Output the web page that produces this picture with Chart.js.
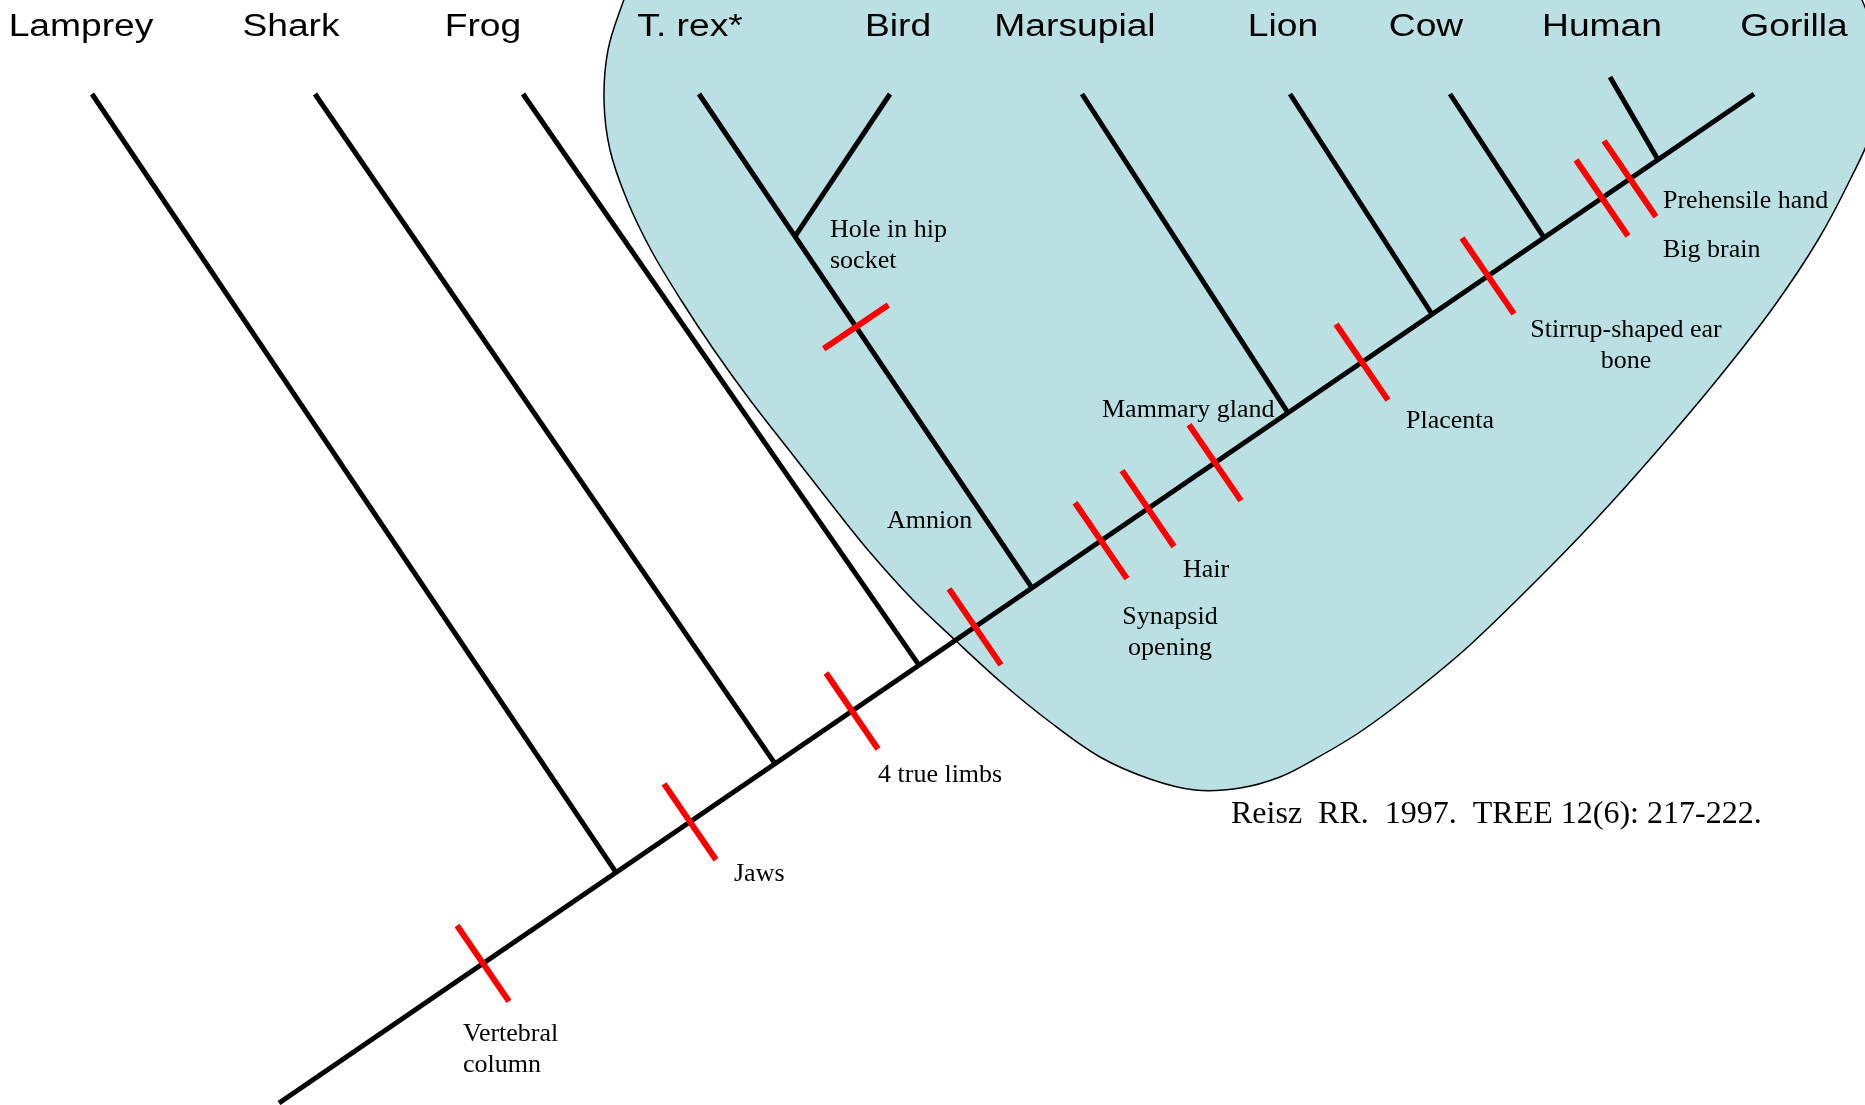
<!DOCTYPE html>
<html>
<head>
<meta charset="utf-8">
<title>Cladogram</title>
<script src="https://cdn.jsdelivr.net/npm/chart.js@4.4.1/dist/chart.umd.min.js"></script>
<style>
  html, body { margin: 0; padding: 0; background: #fff; }
  #wrap { width: 1865px; height: 1105px; position: relative; }
</style>
</head>
<body>
<div id="wrap"><canvas id="clado"></canvas></div>
<script>
// taxa along the top, left to right
const taxa = ['Lamprey', 'Shark', 'Frog', 'T. rex*', 'Bird', 'Marsupial', 'Lion', 'Cow', 'Human', 'Gorilla'];
const tipX = [92, 315, 523, 699, 890, 1082, 1290, 1450, 1610, 1754];
const tipY = [94, 94, 94, 94, 94, 94, 94, 94, 77, 94];
// x where each branch meets its parent; parent -1 = main stem
const joinX = [616, 775, 919, 1032, 795, 1288, 1432, 1544, 1658, 1754];
const parent = [-1, -1, -1, -1, 3, -1, -1, -1, -1, -1];

const rootX = 279, rootY = 1103;

// derived characters, x where they cross their lineage
const traits = ['Vertebral column', 'Jaws', '4 true limbs', 'Amnion', 'Synapsid opening', 'Hair',
  'Mammary gland', 'Placenta', 'Stirrup-shaped ear bone', 'Big brain', 'Prehensile hand', 'Hole in hip socket'];
const traitX = [483, 690, 852, 975, 1101, 1148, 1215, 1362, 1488, 1602, 1630, 856];
const traitOn = [-1, -1, -1, -1, -1, -1, -1, -1, -1, -1, -1, 3];

// outline of the shaded (amniote) group
const cladeX = [640, 622, 608, 604, 610, 627, 651, 681, 714, 750, 789, 828, 868, 913, 955, 1002, 1050, 1100, 1150, 1195,
  1240, 1280, 1315, 1360, 1410, 1470, 1550, 1610, 1670, 1725, 1775, 1818, 1850, 1872, 1882, 1862, 1830, 1300, 700];
const cladeY = [-40, 5, 50, 100, 150, 200, 250, 300, 350, 400, 450, 500, 550, 600, 640, 683, 722, 757, 779, 790,
  788, 777, 759, 732, 695, 645, 567, 504, 436, 370, 305, 240, 180, 130, 70, 0, -50, -90, -80];

const citation = 'Reisz  RR.  1997.  TREE 12(6): 217-222.';

// ---- layout for the text ----
const taxonLabelX = [81, 291, 483, 690, 898, 1075, 1283, 1426, 1602, 1794];
const traitLabels = [
  { x: 463, y: 1041, align: 'left', lines: ['Vertebral', 'column'] },
  { x: 734, y: 881, align: 'left', lines: ['Jaws'] },
  { x: 878, y: 782, align: 'left', lines: ['4 true limbs'] },
  { x: 887, y: 528, align: 'left', lines: ['Amnion'] },
  { x: 1170, y: 624, align: 'center', lines: ['Synapsid', 'opening'] },
  { x: 1183, y: 577, align: 'left', lines: ['Hair'] },
  { x: 1102, y: 417, align: 'left', lines: ['Mammary gland'] },
  { x: 1406, y: 428, align: 'left', lines: ['Placenta'] },
  { x: 1626, y: 337, align: 'center', lines: ['Stirrup-shaped ear', 'bone'] },
  { x: 1663, y: 257, align: 'left', lines: ['Big brain'] },
  { x: 1663, y: 208, align: 'left', lines: ['Prehensile hand'] },
  { x: 830, y: 237, align: 'left', lines: ['Hole in hip', 'socket'] }
];

// geometry helpers (data units)
function lineageY(p, x) {
  if (p < 0) {
    return rootY + (x - rootX) * (tipY[9] - rootY) / (tipX[9] - rootX);
  }
  const jy = lineageY(parent[p], joinX[p]);
  return tipY[p] + (x - tipX[p]) * (jy - tipY[p]) / (joinX[p] - tipX[p]);
}
function lineageDir(p) {
  let dx, dy;
  if (p < 0) { dx = tipX[9] - rootX; dy = tipY[9] - rootY; }
  else { dx = joinX[p] - tipX[p]; dy = lineageY(parent[p], joinX[p]) - tipY[p]; }
  const len = Math.hypot(dx, dy);
  return { x: dx / len, y: dy / len };
}

const datasets = [];

datasets.push({
  data: cladeX.map((x, i) => ({ x: x, y: cladeY[i] })),
  borderColor: '#000',
  borderWidth: 1.5,
  backgroundColor: '#bbe0e3',
  fill: 'shape',
  tension: 0.35,
  order: 3
});

// main stem
datasets.push({
  data: [{ x: rootX, y: rootY }, { x: tipX[9], y: tipY[9] }],
  borderColor: '#000', borderWidth: 5, order: 2
});

taxa.forEach((name, i) => {
  if (tipX[i] === joinX[i]) return;
  datasets.push({
    data: [{ x: tipX[i], y: tipY[i] }, { x: joinX[i], y: lineageY(parent[i], joinX[i]) }],
    borderColor: '#000', borderWidth: 5, order: 2
  });
});

traits.forEach((name, i) => {
  const p = traitOn[i];
  const half = p < 0 ? 46 : 39;
  const cx = traitX[i], cy = lineageY(p, cx);
  const d = lineageDir(p);
  let n = { x: -d.y, y: d.x };
  if (n.x < 0) n = { x: -n.x, y: -n.y };
  datasets.push({
    data: [{ x: cx - n.x * half, y: cy - n.y * half }, { x: cx + n.x * half, y: cy + n.y * half }],
    borderColor: '#ff0000', borderWidth: 6, order: 1
  });
});

const textPlugin = {
  id: 'cladeText',
  afterDatasetsDraw(chart) {
    const ctx = chart.ctx;
    const sx = chart.scales.x, sy = chart.scales.y;
    ctx.save();
    ctx.fillStyle = '#000';
    ctx.textBaseline = 'alphabetic';

    // taxon names (slide font is stretched sideways)
    ctx.font = '31px "Liberation Sans", Arial, sans-serif';
    ctx.textAlign = 'center';
    taxa.forEach((name, i) => {
      ctx.save();
      ctx.translate(sx.getPixelForValue(taxonLabelX[i]), sy.getPixelForValue(36));
      ctx.scale(1.2, 1);
      ctx.fillText(name, 0, 0);
      ctx.restore();
    });

    ctx.font = '26px "Liberation Serif", "Times New Roman", serif';
    traitLabels.forEach(lab => {
      ctx.textAlign = lab.align;
      lab.lines.forEach((t, k) => {
        ctx.fillText(t, sx.getPixelForValue(lab.x), sy.getPixelForValue(lab.y + k * 31));
      });
    });

    ctx.font = '32px "Liberation Serif", "Times New Roman", serif';
    ctx.textAlign = 'left';
    ctx.fillText(citation, sx.getPixelForValue(1231), sy.getPixelForValue(823));
    ctx.restore();
  }
};

new Chart(document.getElementById('clado'), {
  type: 'line',
  data: { datasets: datasets },
  options: {
    responsive: true,
    maintainAspectRatio: false,
    animation: false,
    layout: { padding: 0 },
    elements: {
      point: { radius: 0, hoverRadius: 0 },
      line: { tension: 0, borderCapStyle: 'butt', capBezierPoints: false }
    },
    scales: {
      x: { type: 'linear', min: 0, max: 1865, display: false },
      y: { type: 'linear', min: 0, max: 1105, reverse: true, display: false }
    },
    plugins: { legend: { display: false }, tooltip: { enabled: false } },
    events: []
  },
  plugins: [textPlugin]
});
</script>
</body>
</html>
